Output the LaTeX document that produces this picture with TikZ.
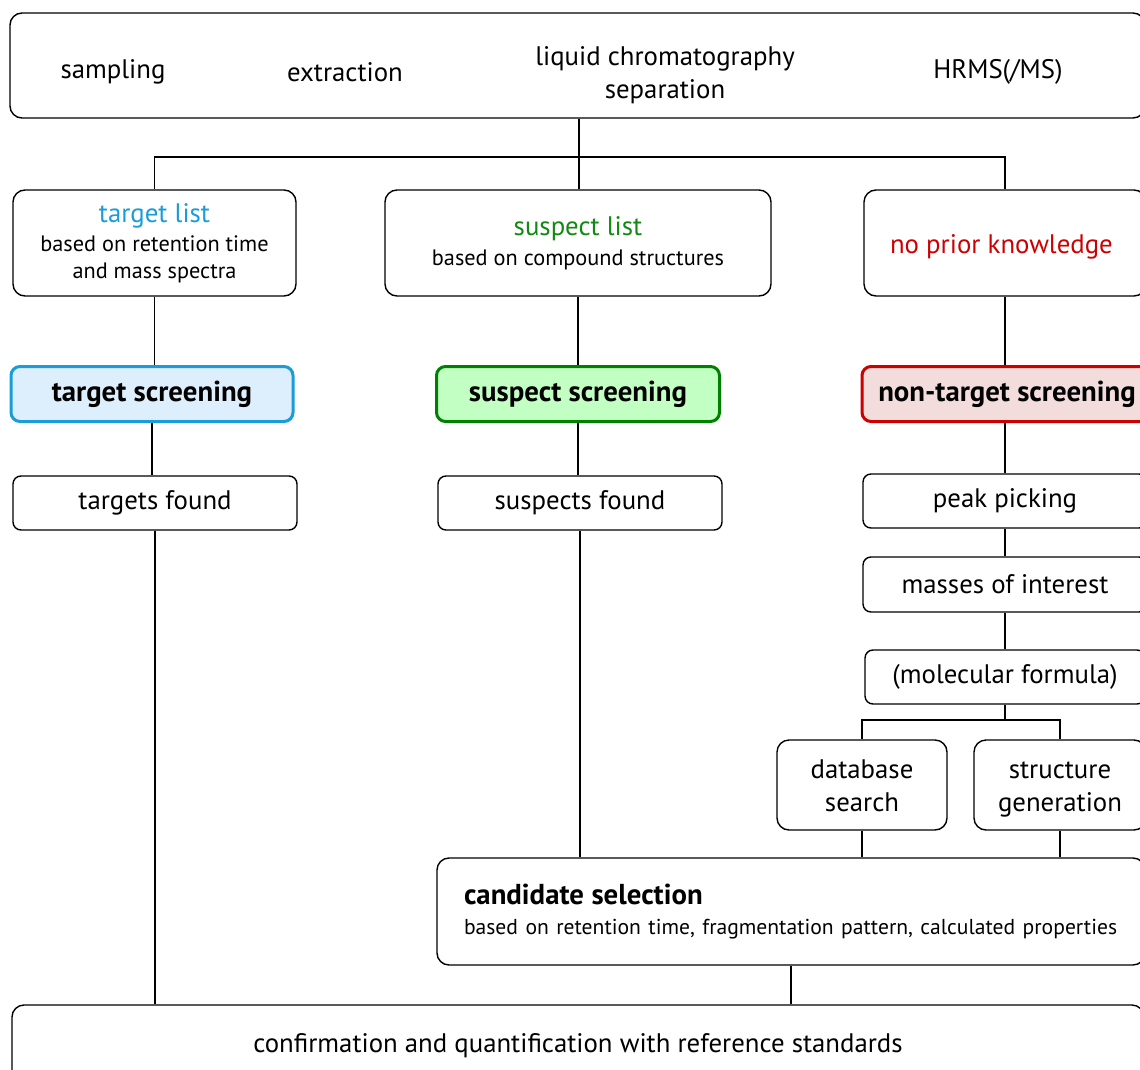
\documentclass[tikz,border=0pt]{standalone}
\usepackage{fontspec}
\setmainfont{PT Sans}
\usetikzlibrary{positioning}

\definecolor{tgtblue}{HTML}{1A9CD8}
\definecolor{tgtfill}{HTML}{DDEEFD}
\definecolor{susgreen}{HTML}{108A10}
\definecolor{susline}{HTML}{008000}
\definecolor{susfill}{HTML}{C2FFC2}
\definecolor{ntred}{HTML}{CC0000}
\definecolor{ntfill}{HTML}{F2DCDC}

\newcommand{\bigtxt}{\fontsize{26.8}{33}\selectfont}
\newcommand{\smalltxt}{\fontsize{22.3}{27}\selectfont}
\newcommand{\boldtxt}{\fontsize{28.8}{33}\selectfont\bfseries}

\tikzset{
    box/.style={draw, line width=1.4pt, rounded corners=12pt, align=center,
        inner sep=0pt, font=\bigtxt},
    screenbox/.style={box, line width=3pt, rounded corners=9pt, font=\boldtxt},
    link/.style={line width=1.4pt}
}

\begin{document}
\begin{tikzpicture}[x=1pt, y=-1pt]
    \clip (0,0) rectangle (1140,1070);
    \useasboundingbox (0,0) rectangle (1140,1070);

    % workflow
    \node[box, minimum width=1135pt, minimum height=105pt] (workflow) at (577.5,65.5) {};
    \node[font=\bigtxt] (sampling) at (113,72) {sampling};
    \node[font=\bigtxt] (extraction) at (345,72) {extraction};
    \node[font=\bigtxt, align=center] (lc) at (665,75) {liquid chromatography\\separation};
    \node[font=\bigtxt] (hrms) at (998,72) {HRMS(/MS)};

    \coordinate (split) at (579,157);

    % knowledge
    \node[box, font=\smalltxt, minimum width=283pt, minimum height=106pt] (targetList) at (154.5,243) {
        {\bigtxt\textcolor{tgtblue}{target list}}\\[2pt]
        based on retention time\\
        and mass spectra
    };
    \node[box, font=\smalltxt, minimum width=386pt, minimum height=106pt] (suspectList) at (578,243) {
        {\bigtxt\textcolor{susgreen}{suspect list}}\\[3pt]
        based on compound structures
    };
    \node[box, minimum width=282pt, minimum height=106pt] (noPrior) at (1005,243) {
        \rule{0pt}{26pt}\textcolor{ntred}{no prior knowledge}
    };

    % screening
    \node[screenbox, draw=tgtblue, fill=tgtfill, minimum width=282pt, minimum height=55pt] (targetScreen) at (152,394) {target screening};
    \node[screenbox, draw=susline, fill=susfill, minimum width=283pt, minimum height=55pt] (suspectScreen) at (578,394) {suspect screening};
    \node[screenbox, draw=ntred, fill=ntfill, minimum width=290pt, minimum height=55pt] (nonTargetScreen) at (1007,394) {non-target screening};

    % found
    \node[box, rounded corners=8pt, minimum width=284pt, minimum height=54pt] (targetsFound) at (155,503) {targets found};
    \node[box, rounded corners=8pt, minimum width=284pt, minimum height=54pt] (suspectsFound) at (580,503) {suspects found};
    \node[box, rounded corners=8pt, minimum width=284pt, minimum height=54pt] (peakPicking) at (1005,501) {peak picking};
    \node[box, rounded corners=8pt, minimum width=284pt, minimum height=55pt] (masses) at (1005,584.5) {masses of interest};
    \node[box, rounded corners=8pt, minimum width=280pt, minimum height=54pt] (formula) at (1005,677) {(molecular formula)};

    \coordinate (split2) at (1005,720);

    \node[box, minimum width=170pt, minimum height=90pt] (dbSearch) at (862,785) {\rule{0pt}{26pt}database\\search\vphantom{g}};
    \node[box, minimum width=172pt, minimum height=90pt] (structGen) at (1060,785) {\rule{0pt}{26pt}structure\\generation};

    \node[box, font=\smalltxt, minimum width=708pt, minimum height=107pt, align=left, text width=654pt] (candidates) at (791,911.5) {
        {\boldtxt candidate selection}\\[3pt]
        \mbox{\fontsize{21.6}{27}\selectfont based on retention time, fragmentation pattern, calculated properties}
    };

    \node[box, minimum width=1132pt, minimum height=90pt] (confirm) at (578,1050) {};
    \node[font=\bigtxt] (confirmText) at (578,1046) {confirmation and quantification with reference standards};

    % links
    \draw[link] (workflow.south -| split) -- (split);
    \draw[link] (split) -| (targetList.north);
    \draw[link] (split) -- (suspectList.north -| split);
    \draw[link] (split) -| (noPrior.north);

    \draw[link] (targetList) -- (targetList.south |- targetScreen.north);
    \draw[link] (suspectList.south -| suspectScreen.north) -- (suspectScreen);
    \draw[link] (noPrior.south -| split2) -- (nonTargetScreen.north -| split2);

    \draw[link] (targetScreen) -- (targetScreen.south |- targetsFound.north);
    \draw[link] (suspectScreen) -- (suspectScreen.south |- suspectsFound.north);
    \draw[link] (nonTargetScreen.south -| peakPicking) -- (peakPicking);
    \draw[link] (peakPicking) -- (masses);
    \draw[link] (masses) -- (formula);

    \draw[link] (formula) -- (split2);
    \draw[link] (split2) -| (dbSearch.north);
    \draw[link] (split2) -| (structGen.north);

    \draw[link] (dbSearch) -- (dbSearch |- candidates.north);
    \draw[link] (structGen) -- (structGen |- candidates.north);
    \draw[link] (suspectsFound) -- (suspectsFound |- candidates.north);

    \draw[link] (targetsFound) -- (targetsFound |- confirm.north);
    \draw[link] (candidates) -- (candidates |- confirm.north);
\end{tikzpicture}
\end{document}
